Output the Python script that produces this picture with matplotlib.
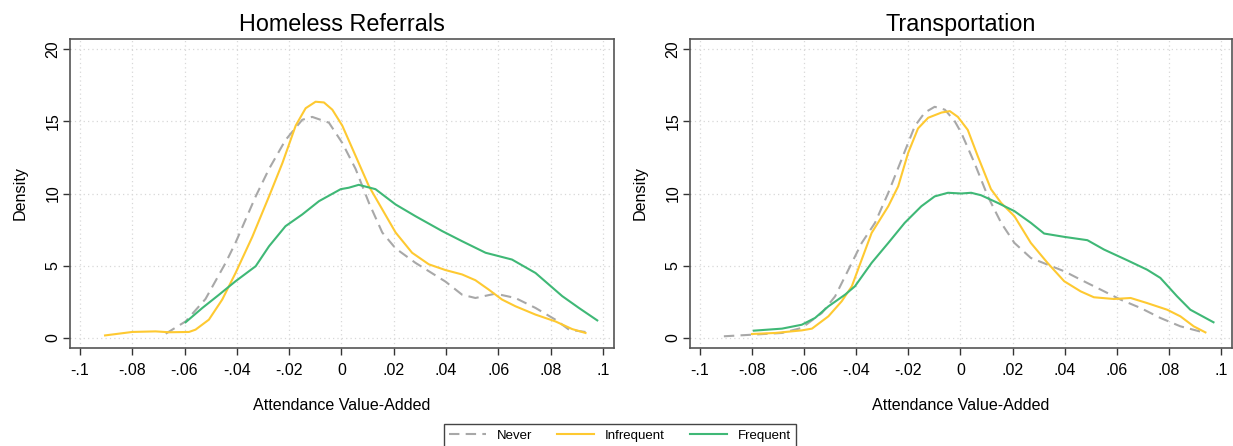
import matplotlib
matplotlib.use("Agg")
import matplotlib.pyplot as plt

plt.rcParams['font.family'] = ['Liberation Sans', 'DejaVu Sans']

titles = ["Homeless Referrals", "Transportation"]
series_names = ["Never", "Infrequent", "Frequent"]
xticks = [-0.1, -0.08, -0.06, -0.04, -0.02, 0, 0.02, 0.04, 0.06, 0.08, 0.1]
xticklabels = ["-.1", "-.08", "-.06", "-.04", "-.02", "0", ".02", ".04", ".06", ".08", ".1"]
yticks = [0, 5, 10, 15, 20]

# Homeless Referrals
hr_never_x = [-0.0672, -0.0596, -0.0520, -0.0443, -0.0405, -0.0328, -0.0277, -0.0214, -0.0150, -0.0112,
              -0.0048, 0.0003, 0.0054, 0.0105, 0.0156, 0.0207, 0.0283, 0.0398, 0.0461, 0.0512,
              0.0589, 0.0665, 0.0742, 0.0818, 0.0870, 0.0940]
hr_never_y = [0.3, 1.15, 2.7, 5.2, 6.6, 9.8, 11.7, 13.7, 15.1, 15.3,
              14.9, 13.5, 11.7, 9.35, 7.3, 6.2, 5.2, 3.9, 3.0, 2.77,
              3.07, 2.77, 2.08, 1.27, 0.58, 0.4]
hr_infreq_x = [-0.0904, -0.0800, -0.0711, -0.0660, -0.0583, -0.0558, -0.0507, -0.0456, -0.0405, -0.0341,
               -0.0277, -0.0226, -0.0175, -0.0137, -0.0099, -0.0067, -0.0035, 0.0003, 0.0054, 0.0105,
               0.0156, 0.0207, 0.0270, 0.0334, 0.0398, 0.0461, 0.0512, 0.0563, 0.0614, 0.0665,
               0.0742, 0.0818, 0.0882, 0.0933]
hr_infreq_y = [0.18, 0.42, 0.46, 0.4, 0.42, 0.58, 1.27, 2.66, 4.5, 7.0,
               9.8, 12.1, 14.7, 15.9, 16.35, 16.3, 15.8, 14.7, 12.6, 10.5,
               8.9, 7.3, 5.9, 5.1, 4.7, 4.4, 4.0, 3.35, 2.66, 2.2,
               1.62, 1.15, 0.62, 0.35]
hr_freq_x = [-0.0596, -0.0532, -0.0468, -0.0405, -0.0328, -0.0277, -0.0214, -0.0150, -0.0086, -0.0003,
             0.0028, 0.0066, 0.0130, 0.0207, 0.0283, 0.0385, 0.0461, 0.0551, 0.0652, 0.0742,
             0.0844, 0.0908, 0.0978]
hr_freq_y = [1.09, 2.08, 3.0, 3.93, 4.97, 6.35, 7.74, 8.55, 9.47, 10.3,
             10.4, 10.6, 10.3, 9.24, 8.43, 7.4, 6.7, 5.9, 5.43, 4.5,
             2.9, 2.08, 1.22]

# Transportation
tr_never_x = [-0.0908, -0.0800, -0.0685, -0.0609, -0.0532, -0.0481, -0.0430, -0.0379, -0.0328, -0.0277,
              -0.0226, -0.0175, -0.0137, -0.0099, -0.0060, -0.0022, 0.0003, 0.0054, 0.0105, 0.0156,
              0.0207, 0.0270, 0.0334, 0.0398, 0.0461, 0.0538, 0.0614, 0.0691, 0.0767, 0.0844, 0.0933]
tr_never_y = [0.12, 0.23, 0.35, 0.7, 1.73, 2.89, 4.73, 6.58, 7.97, 10.05,
              12.36, 14.67, 15.6, 16.0, 15.8, 15.0, 14.2, 12.1, 9.8, 7.97,
              6.58, 5.54, 5.08, 4.62, 4.04, 3.35, 2.66, 2.08, 1.39, 0.81, 0.39]
tr_infreq_x = [-0.0800, -0.0711, -0.0609, -0.0570, -0.0507, -0.0456, -0.0417, -0.0379, -0.0341, -0.0277,
               -0.0239, -0.0201, -0.0163, -0.0124, -0.0073, -0.0041, -0.0010, 0.0028, 0.0066, 0.0117,
               0.0156, 0.0207, 0.0270, 0.0334, 0.0398, 0.0461, 0.0512, 0.0589, 0.0653, 0.0716,
               0.0793, 0.0844, 0.0895, 0.0940]
tr_infreq_y = [0.28, 0.35, 0.53, 0.65, 1.5, 2.54, 3.58, 5.43, 7.27, 9.12,
               10.5, 12.8, 14.5, 15.24, 15.6, 15.7, 15.3, 14.4, 12.6, 10.3,
               9.35, 8.43, 6.58, 5.2, 3.93, 3.23, 2.82, 2.7, 2.77, 2.42,
               1.96, 1.5, 0.81, 0.39]
tr_freq_x = [-0.0793, -0.0685, -0.0609, -0.0558, -0.0507, -0.0443, -0.0405, -0.0341, -0.0277, -0.0214,
             -0.0150, -0.0099, -0.0048, 0.0003, 0.0041, 0.0079, 0.0143, 0.0207, 0.0270, 0.0321,
             0.0398, 0.0487, 0.0551, 0.0640, 0.0716, 0.0767, 0.0831, 0.0882, 0.0971]
tr_freq_y = [0.51, 0.65, 0.92, 1.39, 2.19, 3.0, 3.58, 5.2, 6.58, 7.97,
             9.12, 9.8, 10.05, 10.0, 10.05, 9.88, 9.35, 8.78, 7.97, 7.23,
             7.0, 6.77, 6.12, 5.38, 4.73, 4.16, 2.89, 1.96, 1.09]

panels = [
    [(hr_never_x, hr_never_y), (hr_infreq_x, hr_infreq_y), (hr_freq_x, hr_freq_y)],
    [(tr_never_x, tr_never_y), (tr_infreq_x, tr_infreq_y), (tr_freq_x, tr_freq_y)],
]

colors = ["#a8a8a8", "#fec931", "#3fb876"]
styles = [(0, (5, 3)), "-", "-"]

W, H = 1233, 446
fig = plt.figure(figsize=(W / 100, H / 100), dpi=100)
boxes = [(70, 614), (690, 1232)]
top_px, bot_px = 39, 348

handles = []
for i, (l, r) in enumerate(boxes):
    ax = fig.add_axes([l / W, 1 - bot_px / H, (r - l) / W, (bot_px - top_px) / H])
    for j, (xs, ys) in enumerate(panels[i]):
        h, = ax.plot(xs, ys, color=colors[j], linestyle=styles[j], lw=1.5,
                     label=series_names[j], zorder=3)
        if i == 0:
            handles.append(h)
    ax.set_xlim(-0.1038, 0.1042)
    ax.set_ylim(-0.69, 20.69)
    ax.set_xticks(xticks)
    ax.set_xticklabels(xticklabels, fontsize=11.5)
    ax.set_yticks(yticks)
    ax.set_yticklabels([str(t) for t in yticks], fontsize=11.5, rotation=90, va='center')
    ax.grid(True, color="#d8d8d8", linestyle=(0, (1, 2.5)), lw=0.9)
    ax.tick_params(axis='both', direction='out', length=5, width=1, color="#333333")
    ax.tick_params(axis='x', pad=6)
    ax.tick_params(axis='y', pad=2)
    for s in ax.spines.values():
        s.set_color("#555555")
        s.set_linewidth(1.2)
    ax.set_title(titles[i], fontsize=16.8, pad=6)
    ax.set_xlabel("Attendance Value-Added", fontsize=11.6, labelpad=14)
    ax.set_ylabel("Density", fontsize=11.6, labelpad=13)

leg = fig.legend(handles=handles, loc='upper center', bbox_to_anchor=(620 / W, 1 - 424 / H),
                 borderaxespad=0, ncol=3, fontsize=9.5, frameon=True, fancybox=False, framealpha=1,
                 edgecolor="#444444", handlelength=2.8, handletextpad=0.8, columnspacing=1.9,
                 borderpad=0.4)
leg.get_frame().set_linewidth(1.0)

fig.savefig("out.png", dpi=100)
